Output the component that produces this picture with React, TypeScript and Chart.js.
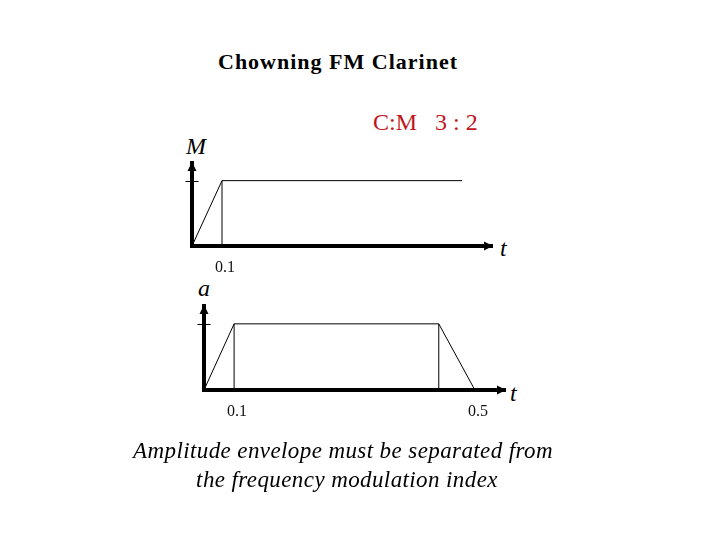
import React, { useEffect, useRef } from "react";
import { Chart, registerables } from "chart.js";

Chart.register(...registerables);

// ---- Data (schematic time positions; 1 unit = the "0.1" mark) ----
const axisTimeMax = 10;
const axisLevelMax = 1.27;
const levelTicks = [1];

// Modulation index envelope (M)
const modTimes = [0, 1, 9];
const modLevels = [0, 1, 1];
const modMarkerTimes = [1];
const modTickPositions = [1];
const modTickLabels = ["0.1"];

// Amplitude envelope (a)
const ampTimes = [0, 1, 7.8, 9];
const ampLevels = [0, 1, 1, 0];
const ampMarkerTimes = [1, 7.8];
const ampTickPositions = [1, 9];
const ampTickLabels = ["0.1", "0.5"];

const SERIF = '"Liberation Serif", "Times New Roman", serif';

const axisArrows = {
  id: "axisArrows",
  afterDraw(chart: any) {
    const { ctx, scales } = chart;
    const xs = scales.x;
    const ys = scales.y;
    const x0 = xs.getPixelForValue(0);
    const y0 = ys.getPixelForValue(0);
    const xr = xs.getPixelForValue(axisTimeMax);
    const yt = ys.getPixelForValue(axisLevelMax);
    ctx.save();
    ctx.fillStyle = "#000";
    ctx.beginPath();
    ctx.moveTo(xr + 1, y0);
    ctx.lineTo(xr - 8, y0 - 4.5);
    ctx.lineTo(xr - 8, y0 + 4.5);
    ctx.closePath();
    ctx.fill();
    ctx.beginPath();
    ctx.moveTo(x0, yt - 1);
    ctx.lineTo(x0 - 4.5, yt + 8);
    ctx.lineTo(x0 + 4.5, yt + 8);
    ctx.closePath();
    ctx.fill();
    ctx.strokeStyle = "#000";
    ctx.lineWidth = 1;
    for (const v of levelTicks) {
      const py = Math.round(ys.getPixelForValue(v)) + 0.5;
      ctx.beginPath();
      ctx.moveTo(x0 - 6.5, py);
      ctx.lineTo(x0 + 6.5, py);
      ctx.stroke();
    }
    ctx.restore();
  },
};

type EnvProps = {
  left: number;
  top: number;
  width: number;
  height: number;
  padding: { left: number; top: number; right: number; bottom: number };
  xAxisHeight: number;
  times: number[];
  levels: number[];
  markers: number[];
  tickPositions: number[];
  tickLabels: string[];
};

function EnvelopeChart(p: EnvProps) {
  const ref = useRef<HTMLCanvasElement | null>(null);
  useEffect(() => {
    if (!ref.current) return;
    const lineStyle = {
      borderColor: "#000",
      borderWidth: 1,
      pointRadius: 0,
      tension: 0,
      fill: false,
      clip: false as any,
    };
    const datasets: any[] = [
      {
        ...lineStyle,
        data: p.times.map((t, i) => ({ x: t, y: p.levels[i] })),
      },
      ...p.markers.map((t) => ({
        ...lineStyle,
        data: [
          { x: t, y: 0 },
          { x: t, y: p.levels[p.times.indexOf(t)] },
        ],
      })),
    ];
    const chart = new Chart(ref.current, {
      type: "line",
      data: { datasets },
      plugins: [axisArrows],
      options: {
        animation: false,
        responsive: false,
        devicePixelRatio: 1,
        layout: { padding: p.padding },
        plugins: {
          legend: { display: false },
          tooltip: { enabled: false },
          title: { display: false },
        },
        scales: {
          x: {
            type: "linear",
            min: 0,
            max: axisTimeMax,
            afterBuildTicks: (s: any) => {
              s.ticks = p.tickPositions.map((v) => ({ value: v }));
            },
            afterFit: (s: any) => {
              s.height = p.xAxisHeight;
            },
            ticks: {
              autoSkip: false,
              maxRotation: 0,
              padding: 12,
              labelOffset: 3,
              color: "#111",
              font: { family: SERIF, size: 16 },
              callback: (v: any) => {
                const i = p.tickPositions.indexOf(Number(v));
                return i >= 0 ? p.tickLabels[i] : "";
              },
            },
            grid: { display: false, drawTicks: false },
            border: { display: true, color: "#000", width: 4 },
          },
          y: {
            type: "linear",
            min: 0,
            max: axisLevelMax,
            afterBuildTicks: (s: any) => {
              s.ticks = levelTicks.map((v) => ({ value: v }));
            },
            afterFit: (s: any) => {
              s.width = 0;
            },
            ticks: { display: false },
            grid: { display: false, drawTicks: false },
            border: { display: true, color: "#000", width: 4 },
          },
        },
      } as any,
    });
    return () => chart.destroy();
  }, []);
  return (
    <canvas
      ref={ref}
      width={p.width}
      height={p.height}
      style={{
        position: "absolute",
        left: p.left,
        top: p.top,
        width: p.width,
        height: p.height,
      }}
    />
  );
}

function Txt(props: {
  x: number;
  baseline: number;
  size: number;
  center?: boolean;
  italic?: boolean;
  bold?: boolean;
  color?: string;
  spacing?: number;
  children: React.ReactNode;
}) {
  const { x, baseline, size, center, italic, bold, color, spacing } = props;
  return (
    <div
      style={{
        position: "absolute",
        left: x,
        top: baseline - 0.8375 * size,
        fontFamily: SERIF,
        fontSize: size,
        lineHeight: `${size}px`,
        fontStyle: italic ? "italic" : "normal",
        fontWeight: bold ? 700 : 400,
        color: color || "#000",
        letterSpacing: spacing ? `${spacing}px` : undefined,
        whiteSpace: "pre",
        transform: center ? "translateX(-50%)" : undefined,
      }}
    >
      {props.children}
    </div>
  );
}

export default function App() {
  return (
    <div
      style={{
        position: "fixed",
        left: 0,
        top: 0,
        width: 720,
        height: 540,
        background: "#fff",
        overflow: "hidden",
      }}
    >
      <Txt x={338} baseline={69.3} size={22} spacing={1} bold center>
        Chowning FM Clarinet
      </Txt>
      <Txt x={373} baseline={130} size={24} color="#c0161c">
        {"C:M   3 : 2"}
      </Txt>
      <Txt x={186} baseline={154} size={24} italic>
        M
      </Txt>
      <Txt x={500} baseline={256} size={24} italic>
        t
      </Txt>
      <Txt x={198} baseline={296} size={24} italic>
        a
      </Txt>
      <Txt x={510} baseline={401} size={24} italic>
        t
      </Txt>
      <EnvelopeChart
        left={140}
        top={140}
        width={400}
        height={150}
        padding={{ left: 52, top: 23, right: 48, bottom: 0 }}
        xAxisHeight={44}
        times={modTimes}
        levels={modLevels}
        markers={modMarkerTimes}
        tickPositions={modTickPositions}
        tickLabels={modTickLabels}
      />
      <EnvelopeChart
        left={150}
        top={280}
        width={400}
        height={150}
        padding={{ left: 54, top: 26, right: 45, bottom: 0 }}
        xAxisHeight={40}
        times={ampTimes}
        levels={ampLevels}
        markers={ampMarkerTimes}
        tickPositions={ampTickPositions}
        tickLabels={ampTickLabels}
      />
      <Txt x={343} baseline={458.3} size={23} spacing={0.4} italic center>
        Amplitude envelope must be separated from
      </Txt>
      <Txt x={347} baseline={487.5} size={23} spacing={0.4} italic center>
        the frequency modulation index
      </Txt>
    </div>
  );
}
